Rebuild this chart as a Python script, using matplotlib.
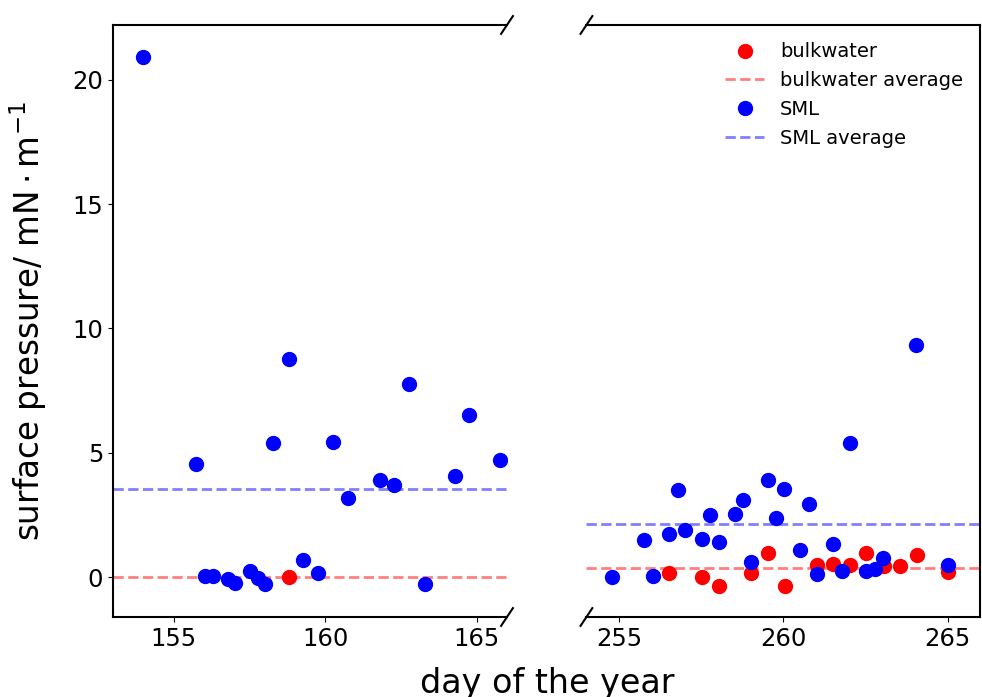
import matplotlib
matplotlib.use("Agg")
import matplotlib.pyplot as plt

# left window (early summer campaign)
sml_day_1 = [154.0, 155.75, 156.05, 156.3, 156.78, 157.03, 157.53, 157.78, 158.02, 158.28,
             158.79, 159.27, 159.76, 160.25, 160.75, 161.8, 162.28, 162.78, 163.28, 164.29,
             164.76, 165.77]
sml_val_1 = [20.92, 4.53, 0.05, 0.05, -0.09, -0.25, 0.25, -0.05, -0.28, 5.39,
             8.76, 0.71, 0.17, 5.43, 3.19, 3.9, 3.69, 7.78, -0.28, 4.06,
             6.51, 4.7]
bulk_day_1 = [158.79]
bulk_val_1 = [0.01]

# right window (autumn campaign)
sml_day_2 = [254.77, 255.76, 256.02, 256.52, 256.78, 257.0, 257.51, 257.77, 258.03, 258.52,
             258.78, 259.02, 259.54, 259.78, 260.03, 260.51, 260.78, 261.02, 261.52, 261.78,
             262.03, 262.5, 262.8, 263.02, 264.04, 265.01]
sml_val_2 = [0.01, 1.51, 0.05, 1.73, 3.49, 1.89, 1.55, 2.49, 1.41, 2.54,
             3.09, 0.6, 3.92, 2.37, 3.53, 1.11, 2.93, 0.11, 1.33, 0.24,
             5.39, 0.24, 0.31, 0.79, 9.32, 0.47]
bulk_day_2 = [256.52, 257.51, 258.03, 259.01, 259.53, 260.04, 261.02, 261.52, 262.03, 262.52,
              263.05, 263.54, 264.06, 265.01]
bulk_val_2 = [0.15, -0.01, -0.36, 0.15, 0.99, -0.36, 0.48, 0.55, 0.47, 0.99,
              0.45, 0.45, 0.91, 0.19]

# averages per campaign
bulk_avg = [0.0, 0.37]
sml_avg = [3.53, 2.12]

fig = plt.figure(figsize=(9.82, 6.97), dpi=100)
ax1 = fig.add_axes([0.1151, 0.1148, 0.4012, 0.8494])
ax2 = fig.add_axes([0.5972, 0.1148, 0.4012, 0.8494])

data = [(ax1, bulk_day_1, bulk_val_1, sml_day_1, sml_val_1, 0),
        (ax2, bulk_day_2, bulk_val_2, sml_day_2, sml_val_2, 1)]
for ax, bd, bv, sd, sv, i in data:
    ax.plot(bd, bv, 'o', color='red', ms=10, label='bulkwater')
    ax.axhline(bulk_avg[i], color='red', alpha=0.5, ls='--', lw=2, label='bulkwater average')
    ax.plot(sd, sv, 'o', color='blue', ms=10, label='SML')
    ax.axhline(sml_avg[i], color='blue', alpha=0.5, ls='--', lw=2, label='SML average')
    ax.set_ylim(-1.6, 22.2)
    for s in ax.spines.values():
        s.set_linewidth(1.5)
    ax.tick_params(labelsize=17.5)

ax1.set_xlim(153, 166)
ax2.set_xlim(254, 266)
ax1.set_xticks([155, 160, 165])
ax2.set_xticks([255, 260, 265])
ax1.set_yticks([0, 5, 10, 15, 20])

ax1.spines['right'].set_visible(False)
ax2.spines['left'].set_visible(False)
ax2.tick_params(axis='y', left=False, labelleft=False)

# break marks
d = .015
kw = dict(transform=ax1.transAxes, color='k', clip_on=False, lw=1.5)
ax1.plot((1 - d, 1 + d), (-d, +d), **kw)
ax1.plot((1 - d, 1 + d), (1 - d, 1 + d), **kw)
kw.update(transform=ax2.transAxes)
ax2.plot((-d, +d), (-d, +d), **kw)
ax2.plot((-d, +d), (1 - d, 1 + d), **kw)

ax1.set_ylabel(r'surface pressure/ $\mathrm{mN \cdot m^{-1}}$', fontsize=23.5)
ax1.yaxis.set_label_coords(-0.163, 0.5)
fig.text(0.557, 0.006, 'day of the year', fontsize=24, ha='center', va='baseline')

ax2.legend(loc='upper right', frameon=False, fontsize=14)

fig.savefig('out.png', dpi=100)
